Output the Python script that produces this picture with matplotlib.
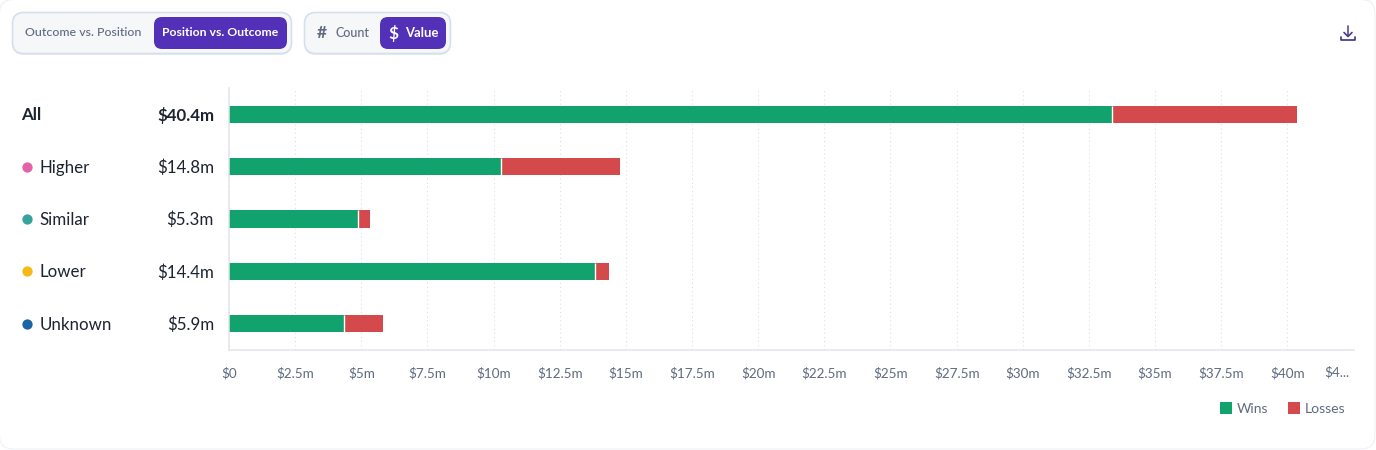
import matplotlib
matplotlib.use("Agg")
import matplotlib.pyplot as plt
from matplotlib.patches import FancyBboxPatch, Rectangle
from matplotlib.transforms import blended_transform_factory, IdentityTransform

plt.rcParams['font.family'] = ['Lato', 'DejaVu Sans']

categories = ["All", "Higher", "Similar", "Lower", "Unknown"]
totals = ["$40.4m", "$14.8m", "$5.3m", "$14.4m", "$5.9m"]
wins = [33.36, 10.29, 4.86, 13.85, 4.35]
losses = [7.0, 4.5, 0.47, 0.53, 1.48]
dot_colors = [None, "#e462a8", "#38a39a", "#f7b917", "#1a65a8"]
tick_values = [0, 2.5, 5, 7.5, 10, 12.5, 15, 17.5, 20, 22.5, 25, 27.5, 30, 32.5, 35, 37.5, 40]
tick_labels = ["$0", "$2.5m", "$5m", "$7.5m", "$10m", "$12.5m", "$15m", "$17.5m", "$20m",
               "$22.5m", "$25m", "$27.5m", "$30m", "$32.5m", "$35m", "$37.5m", "$40m"]

GREEN = "#12a26d"
RED = "#d4494b"
PURPLE = "#5230b8"
INK = "#1d2330"
GREY = "#5f6b7f"
LINE = "#e3e5ec"
W, H = 1376, 450

fig = plt.figure(figsize=(W / 100, H / 100), dpi=100, facecolor="white")

# everything that is not the chart goes on a full size pixel layer
bg = fig.add_axes([0, 0, 1, 1])
bg.set_xlim(0, W)
bg.set_ylim(H, 0)
bg.axis("off")


def box(x, y, w, h, r, face, edge="none", lw=0):
    bg.add_patch(FancyBboxPatch((x, y), w, h, boxstyle=f"round,pad=0,rounding_size={r}",
                                fc=face, ec=edge, lw=lw))


box(-0.5, -0.5, W - 0.5, H - 0.5, 14, "white", "#f0f1f5", 0.8)

# toggle groups, with a faint shadow under each
box(12.5, 14, 279, 41, 11, "#e6ebf2")
box(304.5, 14, 146, 41, 11, "#e6ebf2")
box(12.5, 12.5, 279, 41, 11, "#f5f7f9", "#d5e0ec", 1.2)
box(154, 17, 133, 32, 8, PURPLE)
box(304.5, 12.5, 146, 41, 11, "#f5f7f9", "#d5e0ec", 1.2)
box(380, 17, 66, 32, 8, PURPLE)
bg.text(83.5, 33, "Outcome vs. Position", fontsize=8.9, color=GREY, ha="center", va="center", fontweight="medium")
bg.text(220.5, 33, "Position vs. Outcome", fontsize=8.8, color="white", ha="center", va="center", fontweight="bold")
bg.text(322, 33.5, "#", fontsize=12.5, color=GREY, ha="center", va="center", fontweight="bold")
bg.text(352, 33, "Count", fontsize=9, color=GREY, ha="center", va="center", fontweight="medium")
bg.text(393, 33, "$", fontsize=12.5, color="white", ha="center", va="center", fontweight="bold")
bg.text(421.5, 33, "Value", fontsize=9.4, color="white", ha="center", va="center", fontweight="bold")

# download icon
bg.plot([1348, 1348], [26, 36], color="#5b4a9c", lw=1.2, solid_capstyle="round")
bg.plot([1344, 1348, 1352], [32.5, 36.5, 32.5], color="#4b3a8c", lw=1.2, solid_capstyle="round")
bg.plot([1341, 1341, 1355, 1355], [36.5, 40, 40, 36.5], color="#3a3480", lw=1.2, solid_capstyle="round")

# legend
bg.add_patch(Rectangle((1220, 402), 12, 12, fc=GREEN, ec="none"))
bg.add_patch(Rectangle((1288, 402), 12, 12, fc=RED, ec="none"))
bg.text(1237, 409, "Wins", fontsize=10, color=GREY, va="center")
bg.text(1305, 409, "Losses", fontsize=10.2, color=GREY, va="center")

# last tick label is cut off in the original
bg.text(1349, 372.5, "$4...", fontsize=9.7, color=GREY, ha="right", va="center")

ax = fig.add_axes([229 / W, 1 - 350 / H, 1124.5 / W, 262 / H])
ax.patch.set_alpha(0)
ypos = list(range(len(categories)))
ax.barh(ypos, wins, height=0.325, color=GREEN, zorder=3)
ax.barh(ypos, losses, left=wins, height=0.325, color=RED, zorder=3)
ax.vlines(wins, [y - 0.1625 for y in ypos], [y + 0.1625 for y in ypos], color="white", lw=1, zorder=4)

ax.set_xlim(0, 42.5)
ax.set_ylim(len(categories) - 0.5, -0.5)
ax.set_xticks(tick_values)
ax.set_xticks([42.5], minor=True)
ax.set_xticklabels(tick_labels, fontsize=9.7, color=GREY)
ax.tick_params(axis="x", which="both", length=0, pad=12)
ax.set_yticks([])
ax.grid(axis="x", which="both", color="#d9dce3", linestyle=(0, (1, 3)), lw=0.75, zorder=0)
for side in ("top", "right"):
    ax.spines[side].set_visible(False)
for side in ("left", "bottom"):
    ax.spines[side].set_color(LINE)
    ax.spines[side].set_linewidth(1.1)
    ax.spines[side].set_zorder(5)

# row labels sit left of the axis, x in pixels and y in data
pix = blended_transform_factory(IdentityTransform(), ax.transData)
for i, name in enumerate(categories):
    weight = "bold" if i == 0 else "normal"
    ax.text(21.5 if i == 0 else 39.5, i + 0.02, name, transform=pix, fontsize=12.2, color=INK, va="center",
            fontweight=weight, clip_on=False)
    ax.text(214, i + 0.02, totals[i], transform=pix, fontsize=12.2, color=INK, va="center", ha="right",
            fontweight=weight, clip_on=False)
    if dot_colors[i]:
        ax.scatter([27], [i], s=55, color=dot_colors[i], transform=pix, clip_on=False, linewidths=0)

fig.savefig("out.png", dpi=100, facecolor=fig.get_facecolor())
